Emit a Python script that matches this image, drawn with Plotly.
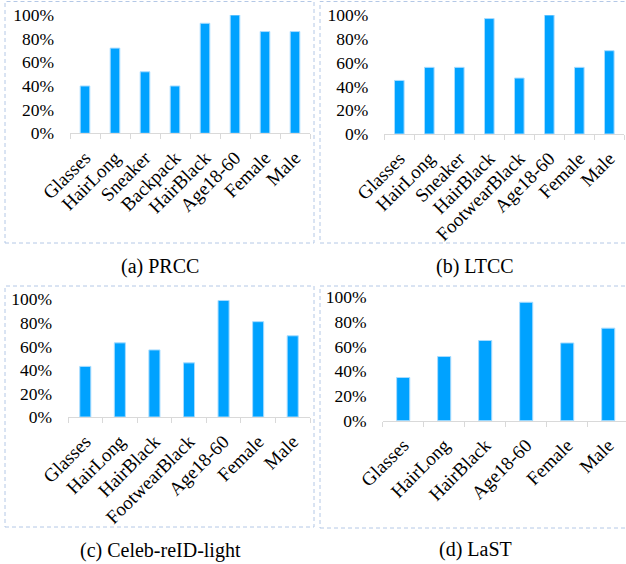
import plotly.graph_objects as go

W, H = 626, 564

# ---- data ----
prcc_labels = ["Glasses", "HairLong", "Sneaker", "Backpack", "HairBlack", "Age18-60", "Female", "Male"]
prcc_values = [0.40, 0.72, 0.52, 0.40, 0.93, 1.00, 0.86, 0.86]

ltcc_labels = ["Glasses", "HairLong", "Sneaker", "HairBlack", "FootwearBlack", "Age18-60", "Female", "Male"]
ltcc_values = [0.45, 0.56, 0.56, 0.97, 0.47, 1.00, 0.56, 0.70]

celeb_labels = ["Glasses", "HairLong", "HairBlack", "FootwearBlack", "Age18-60", "Female", "Male"]
celeb_values = [0.43, 0.63, 0.57, 0.46, 0.99, 0.81, 0.69]

last_labels = ["Glasses", "HairLong", "HairBlack", "Age18-60", "Female", "Male"]
last_values = [0.35, 0.52, 0.65, 0.96, 0.63, 0.75]

captions = ["(a) PRCC", "(b) LTCC", "(c) Celeb-reID-light", "(d) LaST"]

# ---- layout geometry (pixels) ----
def px(x):
    return x / W

def py(y):
    return 1 - y / H

panels = [
    # labels, values, x0, x1, y0(0%), y100, xrange_max
    (prcc_labels, prcc_values, 70, 310, 133.3, 15, 7.5),
    (ltcc_labels, ltcc_values, 384.3, 624.3, 134, 15, 7.5),
    (celeb_labels, celeb_values, 68, 310, 417, 299.3, 6.5),
    (last_labels, last_values, 382.7, 626, 420.7, 297.3, 5.434),
]

FONT = "Liberation Serif"
BAR = "#00A2FF"

fig = go.Figure()
layout = dict(
    template="none",
    width=W, height=H,
    margin=dict(l=0, r=0, t=0, b=0, pad=0, autoexpand=False),
    paper_bgcolor="white", plot_bgcolor="white",
    showlegend=False,
    font=dict(family=FONT, color="black"),
    bargap=0.68,
)

for i, (labels, values, x0, x1, y0, y1, xmax) in enumerate(panels):
    n = "" if i == 0 else str(i + 1)
    fig.add_trace(go.Bar(
        x=labels, y=values,
        xaxis="x" + n, yaxis="y" + n,
        marker=dict(color=BAR, line=dict(color="#A8DCFF", width=1)),
        hoverinfo="skip",
    ))
    layout["xaxis" + n] = dict(
        domain=[px(x0), min(1.0, px(x1))],
        anchor="y" + n,
        type="category",
        range=[-0.5, xmax],
        automargin=False,
        showline=True, linecolor="#D9D9D9", linewidth=1,
        ticks="outside", tickson="boundaries", ticklen=5, tickcolor="#D9D9D9",
        tickangle=-45,
        ticklabelstandoff=5,
        tickfont=dict(family=FONT, size=19, color="black"),
        showgrid=False, zeroline=False,
        fixedrange=True,
    )
    layout["yaxis" + n] = dict(
        domain=[py(y0), py(y1)],
        anchor="x" + n,
        range=[0, 1],
        dtick=0.2, tick0=0,
        tickformat=".0%",
        automargin=False,
        showline=False, showgrid=False, zeroline=False,
        ticks="",
        ticklabelstandoff=15,
        tickfont=dict(family=FONT, size=17.5, color="black"),
        fixedrange=True,
    )

fig.update_layout(**layout)

# dashed panel borders
border = dict(color="#B4C8E6", width=1, dash="4px,3px")
boxes = [(5, 1.5, 314, 243), (320, 1.5, 628, 243), (5, 286, 314, 527), (320, 286, 628, 528)]
for (bx0, by0, bx1, by1) in boxes:
    fig.add_shape(type="rect", xref="paper", yref="paper",
                  x0=px(bx0), x1=px(bx1), y0=py(by1), y1=py(by0),
                  line=border, fillcolor="rgba(0,0,0,0)", layer="below")

# captions
cap_pos = [(160, 267), (475, 267), (160, 550), (475, 549)]
for text, (cx, cy) in zip(captions, cap_pos):
    fig.add_annotation(text=text, xref="paper", yref="paper",
                       x=px(cx), y=py(cy), xanchor="center", yanchor="middle",
                       showarrow=False, font=dict(family=FONT, size=20, color="black"))

fig.write_html("out.html", config={"displayModeBar": False},
               post_script="document.body.style.margin='0';")
